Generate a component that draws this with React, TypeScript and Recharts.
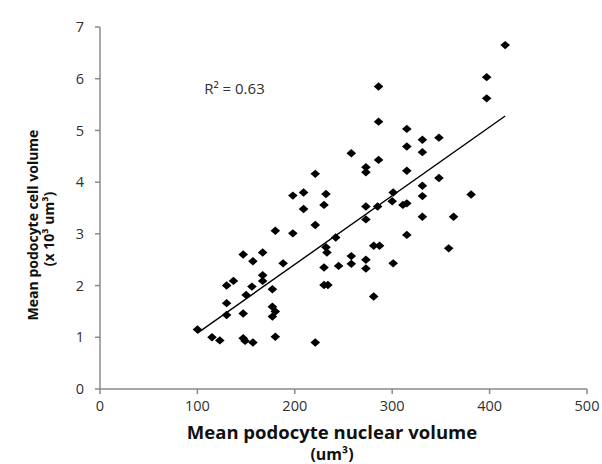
import React from "react";
import { ScatterChart, Scatter, XAxis, YAxis, ReferenceLine, ReferenceDot } from "recharts";

if (typeof document !== "undefined") {
  document.body.style.margin = "0";
}

const nuclearVolume = [
  100, 115, 123, 130, 130, 130, 137, 147, 157, 156, 150, 147, 147, 149, 157,
  167, 167, 167, 177, 177, 180, 177, 180, 180, 188, 198, 198, 209, 209, 221,
  221, 221, 230, 232, 230, 230, 234, 232, 233, 242, 245, 258, 258, 258, 273,
  273, 273, 273, 273, 273, 281, 287, 281, 285, 286, 286, 286, 301, 301, 300,
  311, 315, 315, 315, 315, 315, 331, 331, 331, 331, 331, 348, 348, 363, 381,
  358, 397, 397, 416,
];
const cellVolume = [
  1.15, 1.0, 0.94, 1.66, 1.43, 2.0, 2.09, 2.6, 2.47, 1.98, 1.82, 1.46, 0.98, 0.93, 0.9,
  2.64, 2.2, 2.09, 1.93, 1.59, 1.5, 1.4, 1.01, 3.06, 2.43, 3.01, 3.74, 3.8, 3.48, 3.17,
  4.16, 0.9, 3.56, 3.77, 2.35, 2.01, 2.01, 2.74, 2.64, 2.93, 2.38, 2.57, 2.42, 4.56, 2.5,
  2.33, 3.53, 3.28, 4.29, 4.19, 2.77, 2.77, 1.79, 3.53, 5.85, 5.17, 4.43, 2.43, 3.8, 3.63,
  3.56, 3.59, 2.98, 5.03, 4.69, 4.22, 4.82, 4.58, 3.93, 3.73, 3.33, 4.86, 4.08, 3.33, 3.76,
  2.72, 6.03, 5.62, 6.65,
];
const trendStart = { x: 100, y: 1.08 };
const trendEnd = { x: 416, y: 5.28 };
const xTicks = [0, 100, 200, 300, 400, 500];
const yTicks = [0, 1, 2, 3, 4, 5, 6, 7];
const rSquaredLabel = "R\u00B2 = 0.63";
const rSquaredPos = { x: 107, y: 5.82 };

const points = nuclearVolume.map((x, i) => ({ x, y: cellVolume[i] }));

const FONT = "'Open Sans', 'Liberation Sans', sans-serif";
const AXIS = "#8a8a8a";
const TEXT = "#303030";

const Diamond = (props: any) => {
  const { cx, cy } = props;
  if (cx == null || cy == null) return null;
  const w = 4.8;
  const h = 4.2;
  return (
    <polygon
      points={`${cx},${cy - h} ${cx + w},${cy} ${cx},${cy + h} ${cx - w},${cy}`}
      fill="#000"
    />
  );
};

const XTitle = () => (
  <g>
    <text x={332} y={439} textAnchor="middle" fontFamily={FONT} fontWeight={700} fontSize={18.5} fill="#111">
      Mean podocyte nuclear volume
    </text>
    <text x={332} y={460} textAnchor="middle" fontFamily={FONT} fontWeight={700} fontSize={16} fill="#111">
      (um³)
    </text>
  </g>
);

const YTitle = () => (
  <g>
    <text
      x={32}
      y={225}
      transform="rotate(-90, 32, 225)"
      textAnchor="middle"
      dominantBaseline="central"
      fontFamily={FONT}
      fontWeight={700}
      fontSize={14}
      fill="#111"
    >
      Mean podocyte cell volume
    </text>
    <text
      x={48}
      y={229}
      transform="rotate(-90, 48, 229)"
      textAnchor="middle"
      dominantBaseline="central"
      fontFamily={FONT}
      fontWeight={700}
      fontSize={14}
      fill="#111"
    >
      (x 10³ um³)
    </text>
  </g>
);

export default function App() {
  return (
    <div style={{ width: 602, height: 464, overflow: "hidden" }}>
      <ScatterChart
        width={602}
        height={464}
        margin={{ top: 27, right: 15, bottom: 35, left: 0 }}
      >
        <XAxis
          type="number"
          dataKey="x"
          domain={[0, 500]}
          ticks={xTicks}
          axisLine={{ stroke: AXIS, strokeWidth: 1.5 }}
          tickLine={{ stroke: AXIS, strokeWidth: 1.5 }}
          tickSize={5}
          tickMargin={7}
          height={40}
          tick={{ fill: TEXT, fontSize: 14.5, fontFamily: FONT }}
          label={{ content: () => <XTitle /> }}
        />
        <YAxis
          type="number"
          dataKey="y"
          domain={[0, 7]}
          ticks={yTicks}
          axisLine={{ stroke: AXIS, strokeWidth: 1.5 }}
          tickLine={{ stroke: AXIS, strokeWidth: 1.5 }}
          tickSize={5}
          tickMargin={11}
          width={100}
          tick={{ fill: TEXT, fontSize: 14.5, fontFamily: FONT }}
          label={{ content: () => <YTitle /> }}
        />
        <ReferenceLine
          segment={[trendStart, trendEnd]}
          stroke="#000"
          strokeWidth={1.4}
          ifOverflow="visible"
        />
        <Scatter data={points} shape={<Diamond />} isAnimationActive={false} />
        <ReferenceDot
          x={rSquaredPos.x}
          y={rSquaredPos.y}
          r={0}
          fill="none"
          stroke="none"
          label={{
            content: (p: any) => {
              const vb = p.viewBox || {};
              const cx = vb.x + (vb.width || 0) / 2;
              const cy = vb.y + (vb.height || 0) / 2;
              return (
                <text x={cx} y={cy} dominantBaseline="central" textAnchor="start" fontFamily={FONT} fontSize={15} fill={TEXT}>
                  {rSquaredLabel}
                </text>
              );
            },
          }}
        />
      </ScatterChart>
    </div>
  );
}
